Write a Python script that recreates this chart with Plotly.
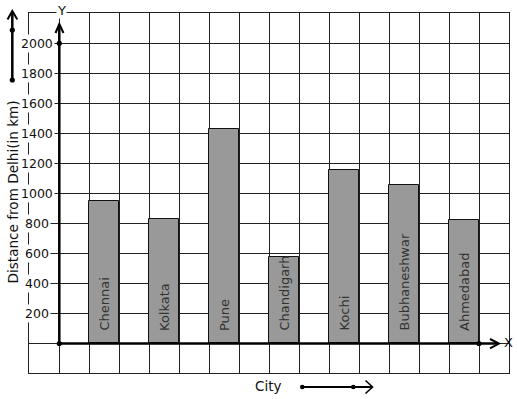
import plotly.graph_objects as go

cities = ["Chennai", "Kolkata", "Pune", "Chandigarh", "Kochi", "Bubhaneshwar", "Ahmedabad"]
distances = [946, 827, 1427, 573, 1151, 1053, 820]
y_ticks = [200, 400, 600, 800, 1000, 1200, 1400, 1600, 1800, 2000]

FONT = "DejaVu Sans"
W, H = 517, 399
L, R, T, B = 29, 8, 13, 26
PW, PH = W - L - R, H - T - B


def px(X):
    return (X - L) / PW


def py(Y):
    return (H - B - Y) / PH


positions = [2 * i + 1.5 for i in range(len(cities))]

fig = go.Figure()
fig.add_trace(go.Bar(
    x=positions, y=distances, width=1,
    marker=dict(color="#999999", line=dict(color="#111111", width=1)),
    hoverinfo="skip", showlegend=False,
))

ann = []
for p, c in zip(positions, cities):
    ann.append(dict(x=p, y=0, xref="x", yref="y", text=c, showarrow=False,
                    textangle=-90, yanchor="bottom", xanchor="center", yshift=10,
                    font=dict(family=FONT, size=13, color="#333333")))
for v in y_ticks:
    ann.append(dict(x=px(37), y=v, xref="paper", yref="y", text=str(v), showarrow=False,
                    xanchor="center", yanchor="middle", bgcolor="white", borderpad=1,
                    font=dict(family=FONT, size=12.5, color="#111111")))
ann.append(dict(x=px(61.5), y=py(10), xref="paper", yref="paper", text="Y", showarrow=False,
                xanchor="center", yanchor="middle", bgcolor="white", borderpad=0,
                font=dict(family=FONT, size=13, color="#111111")))
ann.append(dict(x=px(508), y=py(342), xref="paper", yref="paper", text="X", showarrow=False,
                xanchor="center", yanchor="middle",
                font=dict(family=FONT, size=13, color="#111111")))
ann.append(dict(x=px(268), y=py(385.5), xref="paper", yref="paper", text="City", showarrow=False,
                xanchor="center", yanchor="middle",
                font=dict(family=FONT, size=13.5, color="#111111")))
ann.append(dict(x=px(12.5), y=py(192), xref="paper", yref="paper", text="Distance from Delhi(in km)",
                showarrow=False, textangle=-90, xanchor="center", yanchor="middle",
                font=dict(family=FONT, size=13.6, color="#111111")))

shapes = []
LW = 2.5


def line(x0, y0, x1, y1, w=LW):
    shapes.append(dict(type="line", xref="paper", yref="paper",
                       x0=px(x0), y0=py(y0), x1=px(x1), y1=py(y1),
                       line=dict(color="black", width=w)))


def path(pts, w=2):
    d = "M " + " L ".join(f"{px(a):.5f},{py(b):.5f}" for a, b in pts)
    shapes.append(dict(type="path", xref="paper", yref="paper", path=d,
                       line=dict(color="black", width=w)))


def dot(x, y, r=2.6):
    shapes.append(dict(type="circle", xref="paper", yref="paper",
                       x0=px(x - r), x1=px(x + r), y0=py(y + r), y1=py(y - r),
                       fillcolor="black", line=dict(color="black", width=0)))


# Y axis
line(59.3, 343.5, 59.3, 25)
path([(55.5, 33), (59.3, 24), (63.5, 33)])
dot(59.3, 43.3)
# X axis
line(59.3, 343.5, 498, 343.5)
path([(490, 339), (499, 343.5), (490, 348.5)])
dot(59.3, 343.5)
dot(479, 343.5)
# left arrow
line(12.3, 80, 12.3, 12)
path([(7.5, 19.5), (12.3, 11), (17.3, 19.5)])
dot(12.3, 30)
dot(12.3, 80)
# bottom arrow
line(302.3, 387, 372, 387, w=2)
path([(365.5, 380.5), (372.5, 387), (365.5, 393.5)], w=1.6)
dot(302.3, 387, r=2.3)
dot(353.3, 387, r=2.3)

fig.update_layout(
    width=W, height=H,
    margin=dict(l=L, r=R, t=T, b=B, pad=0),
    paper_bgcolor="white", plot_bgcolor="white",
    font=dict(family=FONT),
    xaxis=dict(range=[-1, 15], dtick=1, tick0=0, showgrid=True, gridcolor="#222222", gridwidth=1,
               showticklabels=False, ticks="", zeroline=False,
               showline=True, mirror=True, linecolor="#222222", linewidth=1, fixedrange=True),
    yaxis=dict(range=[-200, 2200], dtick=200, tick0=0, showgrid=True, gridcolor="#222222", gridwidth=1,
               showticklabels=False, ticks="", zeroline=False,
               showline=True, mirror=True, linecolor="#222222", linewidth=1, fixedrange=True),
    annotations=ann, shapes=shapes, bargap=0,
)

fig.write_html("out.html", config={"displayModeBar": False},
               post_script="document.body.style.margin='0';document.body.style.overflow='hidden';")
